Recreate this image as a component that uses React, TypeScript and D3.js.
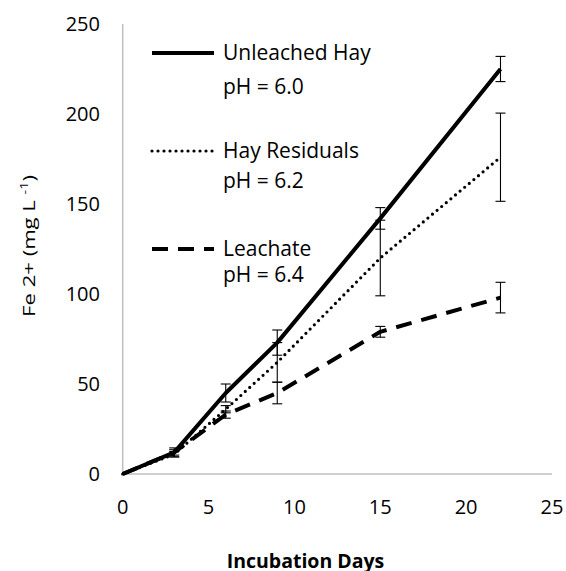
import React from "react";
import * as d3 from "d3";

const days = [0, 3, 6, 9, 15, 22];
const unleached = [0, 12, 45, 73, 142, 225];
const unleachedErr = [0, 2.5, 5, 7, 6, 7];
const residuals = [0, 11, 36, 62, 120, 176];
const residualsErr = [0, 1.5, 2, 11, 21, 24.5];
const leachate = [0, 12, 33, 45, 79, 98];
const leachateErr = [0, 1.5, 2, 6, 3, 8.5];
const xTicks = [0, 5, 10, 15, 20, 25];
const yTicks = [0, 50, 100, 150, 200, 250];

const seriesNames = ["Unleached Hay", "Hay Residuals", "Leachate"];
const seriesPH = ["pH = 6.0", "pH = 6.2", "pH = 6.4"];

const FONT = "'Open Sans', Lato, sans-serif";

export default function App() {
  const W = 566, H = 571;
  const x = d3.scaleLinear().domain([0, 25]).range([122.7, 552]);
  const y = d3.scaleLinear().domain([0, 250]).range([474, 24]);
  const line = d3.line<[number, number]>().x(d => x(d[0])).y(d => y(d[1]));

  const series = [
    { vals: unleached, err: unleachedErr, style: { strokeWidth: 4, strokeDasharray: undefined as string | undefined, strokeLinecap: "butt" as const } },
    { vals: residuals, err: residualsErr, style: { strokeWidth: 3.2, strokeDasharray: "0,6", strokeLinecap: "round" as const } },
    { vals: leachate, err: leachateErr, style: { strokeWidth: 4, strokeDasharray: "16,10", strokeLinecap: "butt" as const } },
  ];

  const legendY = [53, 151, 249];
  const phY = [94, 188, 282];

  return (
    <svg width={W} height={H} style={{ position: "absolute", left: 0, top: 0, background: "#fff" }} fontFamily={FONT}>
      <rect width={W} height={H} fill="#fff" />
      {/* axes */}
      <line x1={x(0)} x2={x(0)} y1={y(250)} y2={y(0)} stroke="#bfbfbf" strokeWidth={1.5} />
      <line x1={x(0)} x2={x(25)} y1={y(0)} y2={y(0)} stroke="#bfbfbf" strokeWidth={1.5} />
      {yTicks.map(t => (
        <text key={"y" + t} x={100} y={y(t)} dy="0.36em" textAnchor="end" fontSize={20} fill="#000">{t}</text>
      ))}
      {xTicks.map(t => (
        <text key={"x" + t} x={x(t)} y={514} textAnchor="middle" fontSize={20} fill="#000">{t}</text>
      ))}
      <text transform={`translate(34.5,246) rotate(-90) scale(1.3,1)`} textAnchor="middle" fontSize={17} fill="#000">
        Fe 2+ (mg L <tspan dy={-7} fontSize={11}>-1</tspan><tspan dy={7}>)</tspan>
      </text>
      <text x={305.5} y={568} textAnchor="middle" fontSize={19.5} fontWeight="bold" fill="#000">Incubation Days</text>

      {/* series lines */}
      {series.map((s, i) => (
        <path key={"l" + i} d={line(days.map((d, j) => [d, s.vals[j]] as [number, number])) || ""}
          fill="none" stroke="#000" strokeWidth={s.style.strokeWidth}
          strokeDasharray={s.style.strokeDasharray} strokeLinecap={s.style.strokeLinecap} strokeLinejoin="round" />
      ))}
      {/* error bars */}
      {series.map((s, i) => (
        <g key={"e" + i} stroke="#000" strokeWidth={1.1}>
          {days.map((d, j) => s.err[j] > 0 ? (
            <g key={j}>
              <line x1={x(d)} x2={x(d)} y1={y(s.vals[j] - s.err[j])} y2={y(s.vals[j] + s.err[j])} />
              <line x1={x(d) - 5} x2={x(d) + 5} y1={y(s.vals[j] - s.err[j])} y2={y(s.vals[j] - s.err[j])} />
              <line x1={x(d) - 5} x2={x(d) + 5} y1={y(s.vals[j] + s.err[j])} y2={y(s.vals[j] + s.err[j])} />
            </g>
          ) : null)}
        </g>
      ))}
      {/* legend */}
      {series.map((s, i) => (
        <g key={"lg" + i}>
          <line x1={152} x2={214} y1={legendY[i]} y2={legendY[i]} stroke="#000" strokeWidth={s.style.strokeWidth}
            strokeDasharray={s.style.strokeDasharray} strokeLinecap={s.style.strokeLinecap} />
          <text x={223} y={legendY[i] + 6.5} fontSize={21} fill="#000">{seriesNames[i]}</text>
          <text x={223} y={phY[i]} fontSize={21} fill="#000">{seriesPH[i]}</text>
        </g>
      ))}
    </svg>
  );
}
